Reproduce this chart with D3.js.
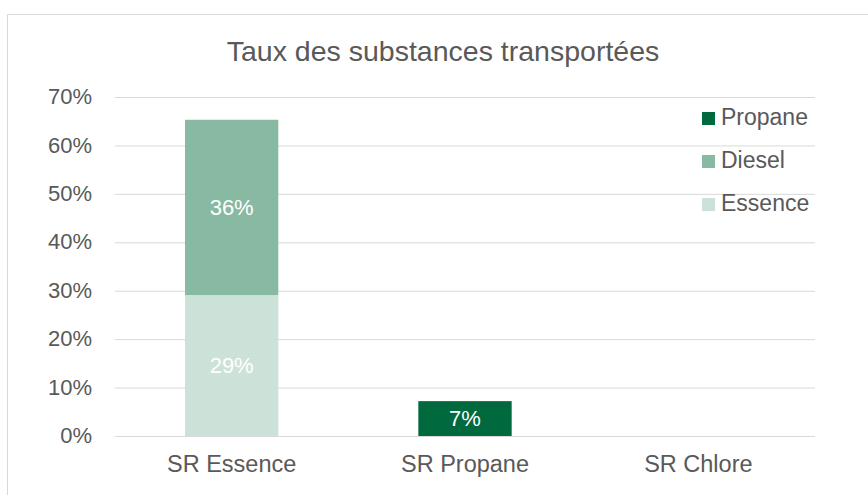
<!DOCTYPE html>
<html><head><meta charset="utf-8">
<script src="https://cdn.jsdelivr.net/npm/d3@7"></script>
<style>body{margin:0;background:#fff}svg{display:block}text{font-family:"Liberation Sans",Arial,sans-serif}</style>
</head><body>
<svg id="c" width="868" height="495"></svg>
<script>
const title = "Taux des substances transportées";
const categories = ["SR Essence", "SR Propane", "SR Chlore"];
const seriesNames = ["Essence", "Diesel", "Propane"];
const essence = [0.291, 0, 0];
const diesel = [0.362, 0, 0];
const propane = [0, 0.072, 0];
const yTicks = [0, 0.1, 0.2, 0.3, 0.4, 0.5, 0.6, 0.7];
const colors = ["#CCE2D9", "#88B9A3", "#006A3E"];

const svg = d3.select("#c");
const W = 868, H = 495;
const m = {left: 115, right: 53, top: 97, bottom: 59};
const x = d3.scaleBand().domain(categories).range([m.left, W - m.right]).paddingInner(0.6).paddingOuter(0.3);
const y = d3.scaleLinear().domain([0, 0.7]).range([H - m.bottom, m.top]);
const FONT = "Liberation Sans, Arial, sans-serif";

svg.append("rect").attr("x", 7.5).attr("y", 14.5).attr("width", 900).attr("height", 600)
  .attr("fill", "none").attr("stroke", "#D9D9D9");

svg.append("text").attr("x", 443).attr("y", 61).attr("text-anchor", "middle")
  .attr("font-size", 28.5).attr("fill", "#595959").text(title);

// grid
const yAxis = d3.axisLeft(y).tickValues(yTicks).tickFormat(d3.format(".0%")).tickSize(-(W - m.left - m.right)).tickPadding(23);
const ga = svg.append("g").attr("transform", `translate(${m.left},0)`).call(yAxis);
ga.select(".domain").remove();
ga.selectAll(".tick line").attr("stroke", "#D9D9D9").attr("stroke-width", 1);
ga.selectAll(".tick text").attr("font-size", 22).attr("fill", "#595959").attr("font-family", FONT).attr("dy", "0.3em");

const data = categories.map((c, i) => ({cat: c, Essence: essence[i], Diesel: diesel[i], Propane: propane[i]}));
const stack = d3.stack().keys(seriesNames)(data);

stack.forEach((s, si) => {
  const g = svg.append("g");
  s.forEach(d => {
    const v = d[1] - d[0];
    if (v <= 0) return;
    g.append("rect").attr("x", x(d.data.cat)).attr("width", x.bandwidth())
      .attr("y", y(d[1])).attr("height", y(d[0]) - y(d[1])).attr("fill", colors[si]);
    g.append("text").attr("x", x(d.data.cat) + x.bandwidth() / 2).attr("y", (y(d[0]) + y(d[1])) / 2)
      .attr("dy", "0.35em").attr("text-anchor", "middle").attr("font-size", 22).attr("fill", "#fff")
      .text(d3.format(".0%")(v));
  });
});

// x axis baseline
svg.append("line").attr("x1", m.left).attr("x2", W - m.right).attr("y1", y(0) + 0.5).attr("y2", y(0) + 0.5).attr("stroke", "#D9D9D9");
const xa = svg.append("g").attr("transform", `translate(0,${y(0)})`).call(d3.axisBottom(x).tickSize(0).tickPadding(19));
xa.select(".domain").remove();
xa.selectAll("text").attr("font-size", 23.5).attr("fill", "#595959").attr("font-family", FONT);

// legend
const legendOrder = ["Propane", "Diesel", "Essence"];
const legBase = [125, 168, 211];
legendOrder.forEach((n, i) => {
  const ci = seriesNames.indexOf(n);
  svg.append("rect").attr("x", 702).attr("y", legBase[i] - 13).attr("width", 13).attr("height", 13).attr("fill", colors[ci]);
  svg.append("text").attr("x", 721).attr("y", legBase[i]).attr("font-size", 23).attr("fill", "#595959").text(n);
});
</script>
</body></html>
